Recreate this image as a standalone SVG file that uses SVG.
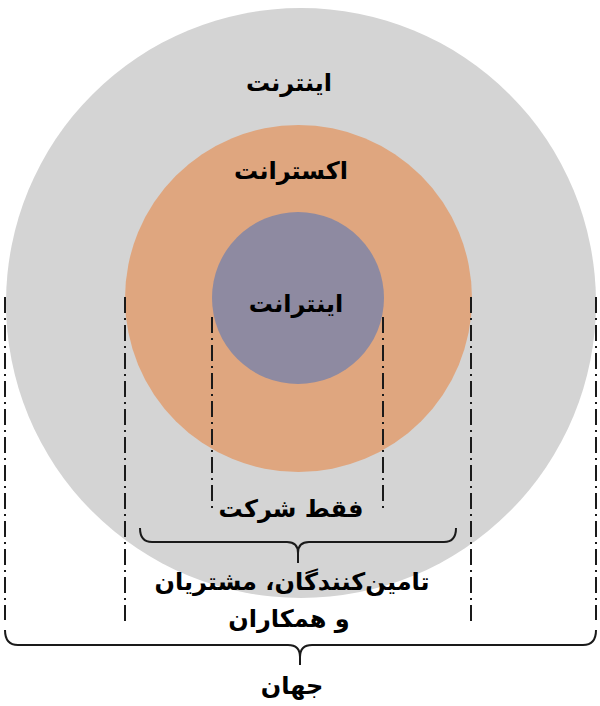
<svg xmlns="http://www.w3.org/2000/svg" width="600" height="706" viewBox="0 0 600 706">
<style>
.lbl{font-family:"DejaVu Sans","Noto Sans",sans-serif;font-weight:bold;fill:#000;text-anchor:middle;direction:rtl;font-size:24px}
.dd{stroke:#1a1a1a;stroke-width:2;fill:none;stroke-dasharray:16 5 2 5}
.br{stroke:#1a1a1a;stroke-width:2;fill:none}
</style>
<rect width="600" height="706" fill="#ffffff"/>
<g id="internet"><circle cx="301" cy="303" r="295" fill="#d4d4d4"/>
<text class="lbl" x="289" y="91">اینترنت</text></g>
<g id="extranet"><circle cx="298.5" cy="298.5" r="173.5" fill="#dfa67f"/>
<text class="lbl" x="291" y="179">اکسترانت</text></g>
<g id="intranet"><circle cx="298" cy="298" r="86" fill="#8e8aa1"/>
<text class="lbl" x="296" y="312">اینترانت</text></g>
<g id="connectors">
<path class="dd" d="M5,297V620M596,297V620M125,297V621M471,297V621M212,317V510M383,317V510"/>
<path class="br" d="M140,528Q140,542 152,542L287,542Q298,542 298,553Q298,542 309,542L444,542Q456,542 456,528M298,553V563"/>
<path class="br" d="M5,630Q5,645 18,645L288,645Q300,645 300,657Q300,645 312,645L583,645Q596,645 596,630M300,657V665"/>
</g>
<g id="label-company"><text class="lbl" x="291" y="517">فقط شرکت</text></g>
<g id="label-partners"><text class="lbl" x="292" y="590">تامین‌کنندگان، مشتریان</text>
<text class="lbl" x="289" y="627">و همکاران</text></g>
<g id="label-world"><text class="lbl" x="292" y="694">جهان</text></g>
</svg>
